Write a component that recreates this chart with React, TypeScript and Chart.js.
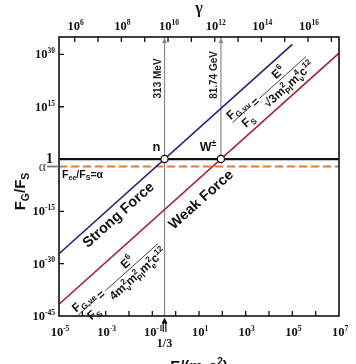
import React, { useEffect, useRef } from "react";
import { Chart, registerables } from "chart.js";

Chart.register(...registerables);

// ---- data ----
const E_RANGE = [1e-5, 1e7];
const RATIO_RANGE = [1e-45, 1e35];
const GAMMA_RANGE = [2.123e5, 2.123e17];

const strongE = [1e-5, 1e5];
const strongRatio = [7.3e-28, 7.3e32];
const weakE = [1e-5, 1e7];
const weakRatio = [2.3e-42, 2.3e30];
const unityE = [1e-5, 1e7];
const unityRatio = [1, 1];
const alphaE = [1e-5, 1e7];
const alphaRatio = [7.3e-3, 7.3e-3];
const nucleonE = [1 / 3, 1 / 3];
const nucleonRatio = [1e-45, 1e35];
const wBosonE = [87.14, 87.14];
const wBosonRatio = [1, 1e35];
const crossE = [1 / 3, 87.14];
const crossRatio = [1, 1];

const bottomTickExp = [-4, -3, -2, -1, 0, 1, 2, 3, 4, 5, 6];
const bottomLabelExp = [-5, -3, -1, 1, 3, 5, 7];
const leftTickExp = [-30, -15, 15, 30];
const leftLabelExp = [-45, -30, -15, 15, 30];
const topTickExp = [6, 7, 8, 9, 10, 11, 12, 13, 14, 15, 16, 17];
const topLabelExp = [6, 8, 10, 12, 14, 16];

const SANS = '"Liberation Sans", Arial, sans-serif';
const SERIF = '"Liberation Serif", "Times New Roman", serif';

type Seg = { t?: string; sup?: string; sub?: string };

function richWidth(ctx: CanvasRenderingContext2D, segs: Seg[], size: number, weight: string, family: string, smallRatio = 0.68) {
  const small = size * smallRatio;
  let w = 0;
  for (const s of segs) {
    if (s.t) {
      ctx.font = `${weight} ${size}px ${family}`;
      w += ctx.measureText(s.t).width;
    }
    ctx.font = `${weight} ${small}px ${family}`;
    const a = s.sup ? ctx.measureText(s.sup).width : 0;
    const b = s.sub ? ctx.measureText(s.sub).width : 0;
    w += Math.max(a, b);
  }
  return w;
}

function drawRich(
  ctx: CanvasRenderingContext2D,
  segs: Seg[],
  x: number,
  y: number,
  align: "left" | "center" | "right",
  size: number,
  weight: string,
  family: string,
  color: string,
  smallRatio = 0.68
) {
  const w = richWidth(ctx, segs, size, weight, family, smallRatio);
  let cx = align === "center" ? x - w / 2 : align === "right" ? x - w : x;
  const small = size * smallRatio;
  ctx.fillStyle = color;
  ctx.textAlign = "left";
  ctx.textBaseline = "alphabetic";
  for (const s of segs) {
    if (s.t) {
      ctx.font = `${weight} ${size}px ${family}`;
      ctx.fillText(s.t, cx, y);
      cx += ctx.measureText(s.t).width;
    }
    ctx.font = `${weight} ${small}px ${family}`;
    let a = 0;
    let b = 0;
    if (s.sup) {
      ctx.fillText(s.sup, cx, y - size * 0.42);
      a = ctx.measureText(s.sup).width;
    }
    if (s.sub) {
      ctx.fillText(s.sub, cx, y + size * 0.28);
      b = ctx.measureText(s.sub).width;
    }
    cx += Math.max(a, b);
  }
  return w;
}

function drawFormula(
  ctx: CanvasRenderingContext2D,
  px: number,
  py: number,
  angle: number,
  leftNum: Seg[],
  leftDen: Seg[],
  rightNum: Seg[],
  rightDen: Seg[]
) {
  const size = 12;
  const wt = "bold";
  ctx.save();
  ctx.translate(px, py);
  ctx.rotate(-angle);
  const wrn = richWidth(ctx, rightNum, size, wt, SANS);
  const wrd = richWidth(ctx, rightDen, size, wt, SANS);
  const wr = Math.max(wrn, wrd);
  drawRich(ctx, rightNum, 0, -3, "center", size, wt, SANS, "#111");
  drawRich(ctx, rightDen, 0, size + 1, "center", size, wt, SANS, "#111");
  ctx.strokeStyle = "#222";
  ctx.lineWidth = 0.8;
  ctx.beginPath();
  ctx.moveTo(-wr / 2, 0);
  ctx.lineTo(wr / 2, 0);
  ctx.stroke();
  // equals sign
  ctx.font = `${wt} ${size}px ${SANS}`;
  const weq = ctx.measureText("=").width;
  const eqX = -wr / 2 - 2 - weq / 2;
  ctx.textAlign = "center";
  ctx.fillStyle = "#111";
  ctx.fillText("=", eqX, 4);
  // left fraction
  const wln = richWidth(ctx, leftNum, size, wt, SANS);
  const wld = richWidth(ctx, leftDen, size, wt, SANS);
  const wl = Math.max(wln, wld);
  const lx = eqX - weq / 2 - 2 - wl / 2;
  drawRich(ctx, leftNum, lx, -3, "center", size, wt, SANS, "#111");
  drawRich(ctx, leftDen, lx, size + 1, "center", size, wt, SANS, "#111");
  ctx.beginPath();
  ctx.moveTo(lx - wl / 2, 0);
  ctx.lineTo(lx + wl / 2, 0);
  ctx.stroke();
  ctx.restore();
}

function pts(xs: number[], ys: number[]) {
  return xs.map((x, i) => ({ x, y: ys[i] }));
}

const decorPlugin = {
  id: "decor",
  afterDraw(chart: any) {
    const ctx: CanvasRenderingContext2D = chart.ctx;
    const area = chart.chartArea;
    const xs = chart.scales.x;
    const ys = chart.scales.y;
    const tx = chart.scales.x2;
    const L = area.left, R = area.right, T = area.top, B = area.bottom;
    ctx.save();

    // axis frame
    ctx.strokeStyle = "#111";
    ctx.lineWidth = 1.6;
    ctx.strokeRect(L, T, R - L, B - T);

    // ticks
    ctx.lineWidth = 1.3;
    ctx.beginPath();
    for (const e of bottomTickExp) {
      const x = xs.getPixelForValue(Math.pow(10, e));
      ctx.moveTo(x, B);
      ctx.lineTo(x, B - 5);
    }
    for (const e of topTickExp) {
      const x = tx.getPixelForValue(Math.pow(10, e));
      if (x > L + 1 && x < R - 1) {
        ctx.moveTo(x, T);
        ctx.lineTo(x, T + 5);
      }
    }
    for (const e of leftTickExp) {
      const y = ys.getPixelForValue(Math.pow(10, e));
      ctx.moveTo(L, y);
      ctx.lineTo(L + 5, y);
    }
    ctx.stroke();

    // tick labels
    for (const e of bottomLabelExp) {
      const x = xs.getPixelForValue(Math.pow(10, e));
      drawRich(ctx, [{ t: "10", sup: String(e) }], x + 1, B + 20, "center", 12.5, "bold", SERIF, "#111", 0.6);
    }
    for (const e of topLabelExp) {
      const x = tx.getPixelForValue(Math.pow(10, e));
      drawRich(ctx, [{ t: "10", sup: String(e) }], x + 1, T - 7, "center", 12.5, "bold", SERIF, "#111", 0.6);
    }
    for (const e of leftLabelExp) {
      const y = ys.getPixelForValue(Math.pow(10, e));
      drawRich(ctx, [{ t: "10", sup: String(e) }], L - 4, y + 4, "right", 12.5, "bold", SERIF, "#111", 0.6);
    }
    // "1" and alpha
    const y1 = ys.getPixelForValue(1);
    const ya = ys.getPixelForValue(alphaRatio[0]);
    ctx.fillStyle = "#111";
    ctx.font = `bold 14px ${SERIF}`;
    ctx.textAlign = "right";
    ctx.textBaseline = "alphabetic";
    ctx.fillText("1", L - 6, y1 + 4);
    ctx.fillStyle = "#444";
    ctx.font = `14px ${SERIF}`;
    ctx.fillText("\u03b1", L - 13, ya + 4);
    ctx.strokeStyle = "#777";
    ctx.lineWidth = 1.8;
    ctx.beginPath();
    ctx.moveTo(L - 12, ya);
    ctx.lineTo(L, ya);
    ctx.stroke();

    // axis titles
    ctx.fillStyle = "#111";
    ctx.font = `bold 16px ${SERIF}`;
    ctx.textAlign = "center";
    ctx.fillText("\u03b3", (L + R) / 2, 13);
    ctx.save();
    ctx.translate(25, (T + B) / 2 + 15);
    ctx.rotate(-Math.PI / 2);
    drawRich(ctx, [{ t: "F", sub: "G" }, { t: "/F", sub: "S" }], 0, 0, "center", 15, "bold", SANS, "#111", 0.7);
    ctx.restore();
    drawRich(ctx, [{ t: "E/(m", sub: "p" }, { t: "c", sup: "2" }, { t: ")" }], (L + R) / 2, 371, "center", 15, "bold", SANS, "#111", 0.68);

    // vertical line arrows
    const xn = xs.getPixelForValue(nucleonE[0]);
    const xw = xs.getPixelForValue(wBosonE[0]);
    ctx.fillStyle = "#888";
    for (const x of [xn, xw]) {
      ctx.beginPath();
      ctx.moveTo(x, T + 1);
      ctx.lineTo(x - 2.5, T + 6);
      ctx.lineTo(x + 2.5, T + 6);
      ctx.closePath();
      ctx.fill();
    }
    // bottom double arrow and 1/3
    ctx.strokeStyle = "#111";
    ctx.fillStyle = "#111";
    ctx.lineWidth = 1.2;
    ctx.beginPath();
    ctx.moveTo(xn - 1.3, B + 7);
    ctx.lineTo(xn - 1.3, B + 16);
    ctx.moveTo(xn + 1.3, B + 7);
    ctx.lineTo(xn + 1.3, B + 16);
    ctx.stroke();
    ctx.beginPath();
    ctx.moveTo(xn, B + 1.5);
    ctx.lineTo(xn - 3, B + 7.5);
    ctx.lineTo(xn + 3, B + 7.5);
    ctx.closePath();
    ctx.fill();
    ctx.font = `bold 12px ${SERIF}`;
    ctx.textAlign = "center";
    ctx.fillText("1/3", xn, B + 31);

    // vertical labels
    ctx.font = `bold 10px ${SANS}`;
    ctx.fillStyle = "#222";
    ctx.save();
    ctx.translate(xn - 4, ys.getPixelForValue(1.3e23));
    ctx.rotate(-Math.PI / 2);
    ctx.textAlign = "center";
    ctx.fillText("313 MeV", 0, 0);
    ctx.restore();
    ctx.save();
    ctx.translate(xw - 4, ys.getPixelForValue(1.3e24));
    ctx.rotate(-Math.PI / 2);
    ctx.textAlign = "center";
    ctx.fillText("81.74 GeV", 0, 0);
    ctx.restore();

    // point labels
    ctx.fillStyle = "#111";
    ctx.font = `bold 13px ${SANS}`;
    ctx.textAlign = "center";
    ctx.fillText("n", xn - 8, y1 - 8);
    drawRich(ctx, [{ t: "W", sup: "\u00b1" }], xw - 13, y1 - 8, "center", 12.5, "bold", SANS, "#111", 0.7);

    drawRich(ctx, [{ t: "F", sub: "ee" }, { t: "/F", sub: "S" }, { t: "=\u03b1" }], L + 3, ya + 11, "left", 10.5, "bold", SANS, "#111", 0.68);

    // slope angle
    const p1x = xs.getPixelForValue(strongE[0]);
    const p1y = ys.getPixelForValue(strongRatio[0]);
    const p2x = xs.getPixelForValue(strongE[1]);
    const p2y = ys.getPixelForValue(strongRatio[1]);
    const ang = Math.atan2(p1y - p2y, p2x - p1x);

    ctx.font = `bold 14.5px ${SANS}`;
    ctx.fillStyle = "#111";
    ctx.textAlign = "center";
    ctx.textBaseline = "middle";
    ctx.save();
    ctx.translate(xs.getPixelForValue(3.6e-3), ys.getPixelForValue(8e-17));
    ctx.rotate(-ang);
    ctx.fillText("Strong Force", 0, 0);
    ctx.restore();
    ctx.save();
    ctx.translate(xs.getPixelForValue(12.6), ys.getPixelForValue(2e-12));
    ctx.rotate(-ang);
    ctx.fillText("Weak Force", 0, 0);
    ctx.restore();
    ctx.textBaseline = "alphabetic";

    drawFormula(
      ctx,
      xs.getPixelForValue(3.9e4),
      ys.getPixelForValue(2.5e23),
      ang,
      [{ t: "F", sub: "G,\u03bd\u03bd" }],
      [{ t: "F", sub: "S" }],
      [{ t: "E", sup: "6" }],
      [{ t: "\u221a3m", sup: "2", sub: "Pl" }, { t: "m", sup: "4", sub: "\u03bd" }, { t: "c", sup: "12" }]
    );
    drawFormula(
      ctx,
      xs.getPixelForValue(1.3e-2),
      ys.getPixelForValue(1e-31),
      ang,
      [{ t: "F", sub: "G,\u03bde" }],
      [{ t: "F", sub: "S" }],
      [{ t: "E", sup: "6" }],
      [{ t: "4m", sup: "2", sub: "\u03bd" }, { t: "m", sup: "2", sub: "Pl" }, { t: "m", sup: "2", sub: "e" }, { t: "c", sup: "12" }]
    );

    ctx.restore();
  },
};

export default function App() {
  const ref = useRef<HTMLCanvasElement | null>(null);
  useEffect(() => {
    if (!ref.current) return;
    const chart = new Chart(ref.current, {
      type: "scatter",
      data: {
        datasets: [
          {
            label: "crossings",
            data: pts(crossE, crossRatio),
            showLine: false,
            pointRadius: 3.6,
            pointBackgroundColor: "#ffffff",
            pointBorderColor: "#111",
            pointBorderWidth: 1.3,
          },
          {
            label: "unity",
            data: pts(unityE, unityRatio),
            showLine: true,
            borderColor: "#111",
            borderWidth: 2.2,
            pointRadius: 0,
          },
          {
            label: "strong",
            data: pts(strongE, strongRatio),
            showLine: true,
            borderColor: "#1c2384",
            borderWidth: 1.6,
            pointRadius: 0,
          },
          {
            label: "weak",
            data: pts(weakE, weakRatio),
            showLine: true,
            borderColor: "#ad1f2d",
            borderWidth: 1.6,
            pointRadius: 0,
          },
          {
            label: "nucleon",
            data: pts(nucleonE, nucleonRatio),
            showLine: true,
            borderColor: "#8a8a8a",
            borderWidth: 1.2,
            pointRadius: 0,
          },
          {
            label: "wboson",
            data: pts(wBosonE, wBosonRatio),
            showLine: true,
            borderColor: "#8a8a8a",
            borderWidth: 1.2,
            pointRadius: 0,
          },
          {
            label: "alpha",
            data: pts(alphaE, alphaRatio),
            showLine: true,
            borderColor: "#e27d3a",
            borderWidth: 2,
            borderDash: [8, 4],
            pointRadius: 0,
          },
        ],
      },
      options: {
        responsive: false,
        animation: false,
        devicePixelRatio: 1,
        layout: { padding: { left: 59, right: 17, top: 37, bottom: 48 } },
        plugins: { legend: { display: false }, tooltip: { enabled: false } },
        scales: {
          x: { type: "logarithmic", min: E_RANGE[0], max: E_RANGE[1], display: false },
          y: { type: "logarithmic", min: RATIO_RANGE[0], max: RATIO_RANGE[1], display: false },
          x2: { type: "logarithmic", position: "top", min: GAMMA_RANGE[0], max: GAMMA_RANGE[1], display: false },
        },
      },
      plugins: [decorPlugin],
    } as any);
    return () => chart.destroy();
  }, []);
  return (
    <div style={{ position: "absolute", left: 0, top: 0, width: 356, height: 364, background: "#fff" }}>
      <canvas ref={ref} width={356} height={364} style={{ display: "block", width: 356, height: 364 }} />
    </div>
  );
}
